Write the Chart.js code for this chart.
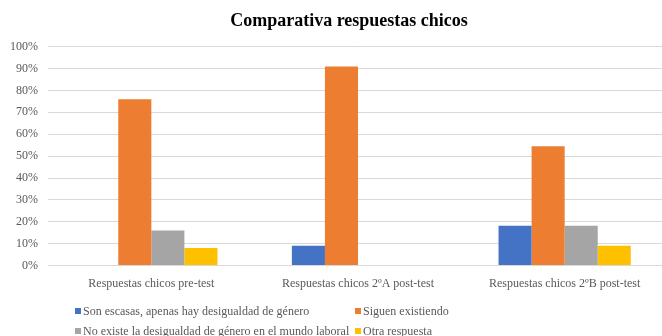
<!DOCTYPE html>
<html>
<head>
<meta charset="utf-8">
<script src="https://cdn.jsdelivr.net/npm/chart.js@4.4.1/dist/chart.umd.min.js"></script>
<style>
  html, body { margin: 0; padding: 0; background: #fff; }
  #wrap { position: relative; width: 662px; height: 336px; overflow: hidden; }
  #legend {
    position: absolute; left: 75px; top: 301px;
    display: grid; grid-template-columns: 280px auto; grid-auto-rows: 20px;
    font: 12px "Liberation Serif", "Times New Roman", serif; color: #595959;
  }
  .item { display: flex; align-items: center; white-space: nowrap; }
  .box { width: 6px; height: 6px; margin-right: 2px; }
</style>
</head>
<body>
<div id="wrap">
  <canvas id="chart" width="662" height="336"></canvas>
  <div id="legend"></div>
</div>
<script>
const categories = [
  "Respuestas chicos pre-test",
  "Respuestas chicos 2ºA post-test",
  "Respuestas chicos 2ºB post-test",
]
const seriesNames = [
  "Son escasas, apenas hay desigualdad de género",
  "Siguen existiendo",
  "No existe la desigualdad de género en el mundo laboral",
  "Otra respuesta",
]
// percentages per category, one array per answer
const escasas = [0, 9.09, 18.18]
const siguen = [76, 90.91, 54.55]
const noExiste = [16, 0, 18.18]
const otra = [8, 0, 9.09]
const yTicks = [0, 10, 20, 30, 40, 50, 60, 70, 80, 90, 100]

const colors = ["#4472C4", "#ED7D31", "#A5A5A5", "#FFC000"]
const serif = "'Liberation Serif', 'Times New Roman', serif"

const datasets = [escasas, siguen, noExiste, otra].map((values, i) => ({
  label: seriesNames[i],
  data: values,
  backgroundColor: colors[i],
  barPercentage: 1,
  categoryPercentage: 0.64,
}))

// plot runs a little past the right edge of the canvas (cropped export),
// and the title sits centred over that wider plot
const plotOverflow = {
  id: "plotOverflow",
  afterLayout(chart) {
    const x = chart.scales.x
    x.right += 6
    x.width += 6
    x.configure()
    chart.chartArea.right += 6
    chart.chartArea.width += 6
    chart.titleBlock.left = 36
  },
}

new Chart(document.getElementById("chart"), {
  type: "bar",
  data: { labels: categories, datasets: datasets },
  plugins: [plotOverflow],
  options: {
    responsive: false,
    animation: false,
    layout: { padding: { left: 10, right: 0, top: 0, bottom: 34 } },
    plugins: {
      legend: { display: false },
      tooltip: { enabled: false },
      title: {
        display: true,
        text: "Comparativa respuestas chicos",
        color: "#000",
        font: { family: serif, size: 18, weight: "bold" },
        padding: { top: 11, bottom: 14 },
      },
    },
    scales: {
      x: {
        grid: { display: false, drawTicks: false },
        border: { display: false },
        ticks: { color: "#595959", font: { family: serif, size: 12 }, padding: 11, maxRotation: 0 },
      },
      y: {
        min: yTicks[0],
        max: yTicks[yTicks.length - 1],
        afterFit: scale => { scale.width = 38 },
        afterBuildTicks: scale => { scale.ticks = yTicks.map(v => ({ value: v })) },
        grid: { color: "#D9D9D9", lineWidth: 1, drawTicks: false },
        border: { display: false },
        ticks: {
          color: "#595959",
          font: { family: serif, size: 12 },
          padding: 10,
          callback: value => value + "%",
        },
      },
    },
  },
})

// legend in two aligned columns, two rows
const legend = document.getElementById("legend")
seriesNames.forEach((name, i) => {
  const item = document.createElement("div")
  item.className = "item"
  const box = document.createElement("span")
  box.className = "box"
  box.style.background = colors[i]
  item.appendChild(box)
  item.appendChild(document.createTextNode(name))
  legend.appendChild(item)
})
</script>
</body>
</html>
